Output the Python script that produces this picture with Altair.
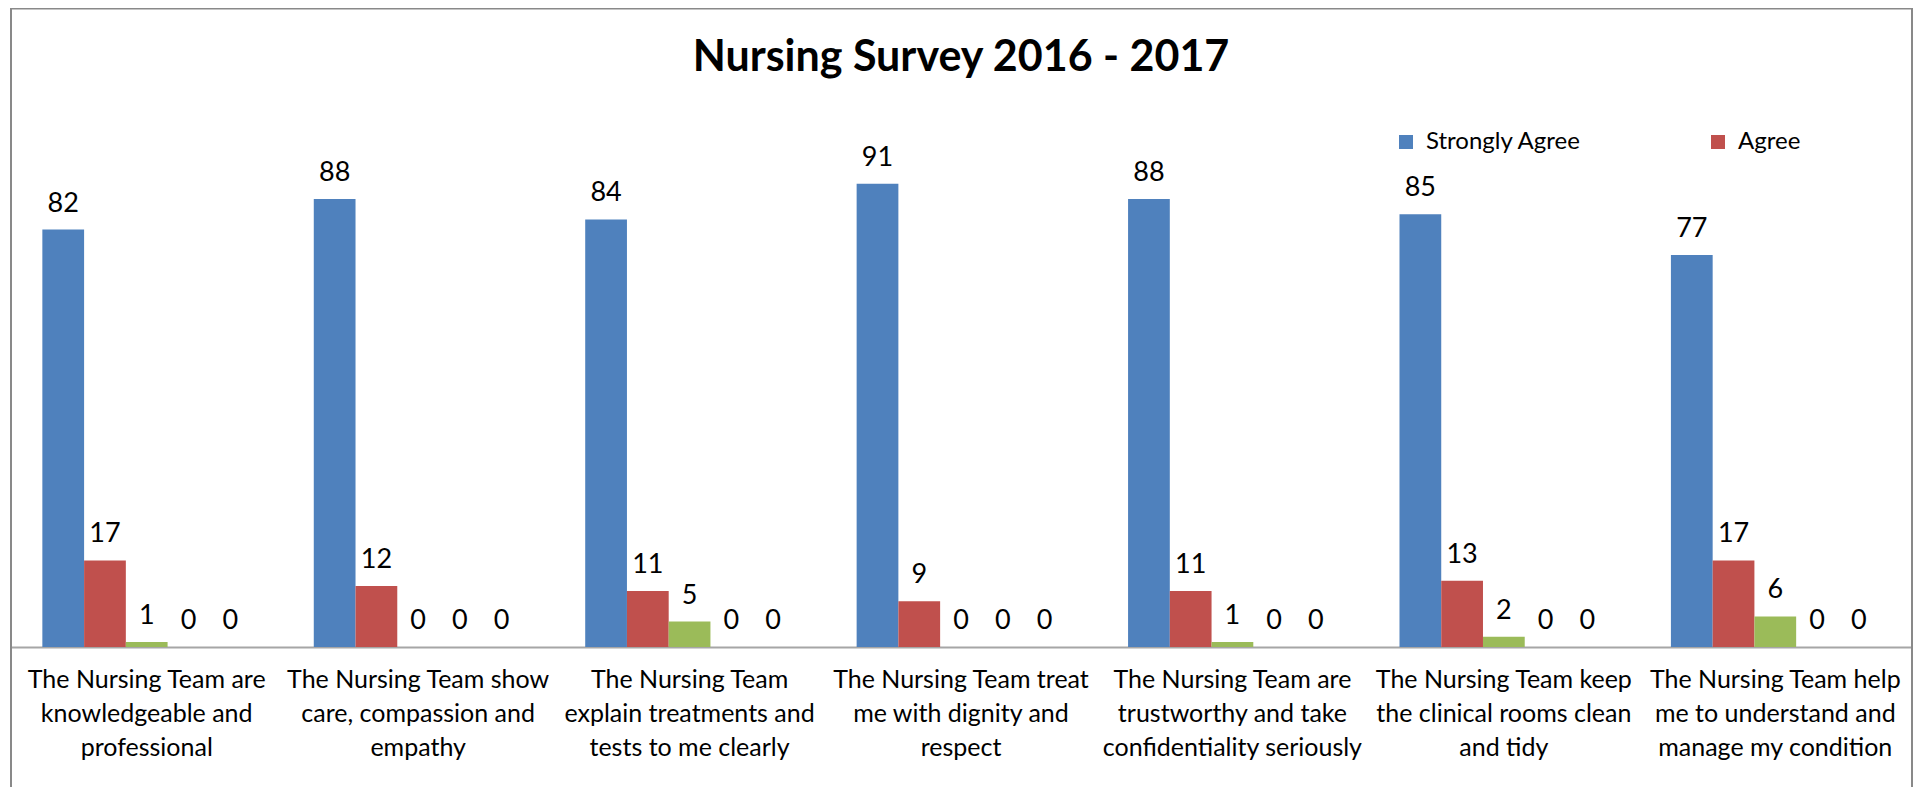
import altair as alt
import pandas as pd

TITLE = "Nursing Survey 2016 - 2017"

categories = [
    "The Nursing Team are\nknowledgeable and\nprofessional",
    "The Nursing Team show\ncare, compassion and\nempathy",
    "The Nursing Team\nexplain treatments and\ntests to me clearly",
    "The Nursing Team treat\nme with dignity and\nrespect",
    "The Nursing Team are\ntrustworthy and take\nconfidentiality seriously",
    "The Nursing Team keep\nthe clinical rooms clean\nand tidy",
    "The Nursing Team help\nme to understand and\nmanage my condition",
]

series = ["Strongly Agree", "Agree", "Neither Agree nor Disagree", "Disagree", "Strongly Disagree"]
colors = ["#4F81BD", "#C0504D", "#9BBB59", "#8064A2", "#4BACC6"]

strongly_agree = [82, 88, 84, 91, 88, 85, 77]
agree = [17, 12, 11, 9, 11, 13, 17]
neither = [1, 0, 5, 0, 1, 2, 6]
disagree = [0, 0, 0, 0, 0, 0, 0]
strongly_disagree = [0, 0, 0, 0, 0, 0, 0]

values_by_series = [strongly_agree, agree, neither, disagree, strongly_disagree]

rows = []
for s, vals in zip(series, values_by_series):
    for c, v in zip(categories, vals):
        rows.append({"category": c, "series": s, "value": v})
df = pd.DataFrame(rows)

W = 1900
H = 509
FONT = "Lato"

x_enc = alt.X(
    "category:N",
    sort=categories,
    title=None,
    scale=alt.Scale(paddingInner=0.231, paddingOuter=0.1155),
    axis=alt.Axis(
        labelExpr="split(datum.label, '\\n')",
        labelAngle=0,
        labelFont=FONT,
        labelFontSize=25,
        labelLineHeight=34,
        labelColor="#000000",
        labelPadding=20,
        labelLimit=400,
        labelOverlap=False,
        ticks=False,
        grid=False,
        domainColor="#A6A6A6",
        domainWidth=2,
    ),
)
xo_enc = alt.XOffset("series:N", sort=series, scale=alt.Scale(paddingInner=0, paddingOuter=0))
y_enc = alt.Y("value:Q", scale=alt.Scale(domain=[0, 100], nice=False), axis=None)

base = alt.Chart(df)

bars = base.mark_bar().encode(
    x=x_enc,
    xOffset=xo_enc,
    y=y_enc,
    color=alt.Color(
        "series:N",
        sort=series,
        scale=alt.Scale(domain=series, range=colors),
        legend=alt.Legend(
            values=["Strongly Agree", "Agree"],
            orient="none",
            legendX=1383,
            legendY=-8,
            direction="horizontal",
            title=None,
            symbolType="square",
            symbolSize=196,
            symbolStrokeWidth=0,
            labelFont=FONT,
            labelFontSize=24,
            labelColor="#000000",
            labelOffset=8,
            columnPadding=124,
            padding=0,
        ),
    ),
)

labels = base.mark_text(
    font=FONT, fontSize=27, color="#000000", baseline="bottom", dy=-12
).encode(
    x=alt.X("category:N", sort=categories),
    xOffset=alt.XOffset("series:N", sort=series),
    y=alt.Y("value:Q"),
    text=alt.Text("value:Q"),
)

title_df = pd.DataFrame({"t": [TITLE]})
title = alt.Chart(title_df).mark_text(
    font=FONT, fontSize=43, fontWeight="bold", color="#000000", align="center", baseline="alphabetic"
).encode(x=alt.value(W / 2), y=alt.value(-67), text="t:N")

border = alt.Chart(pd.DataFrame({"b": [0]})).mark_rect(
    fillOpacity=0, stroke="#898989", strokeWidth=2
).encode(x=alt.value(0), x2=alt.value(W + 1), y=alt.value(-129.5), y2=alt.value(900))

chart = alt.layer(border, bars, labels, title).properties(
    width=W,
    height=H,
    autosize=alt.AutoSizeParams(type="none"),
    padding={"left": 3, "top": 130, "right": 2, "bottom": 140},
).configure(background="white", view=alt.ViewConfig(stroke=None))

chart.save("out.html", embed_options={"renderer": "svg", "actions": False})
